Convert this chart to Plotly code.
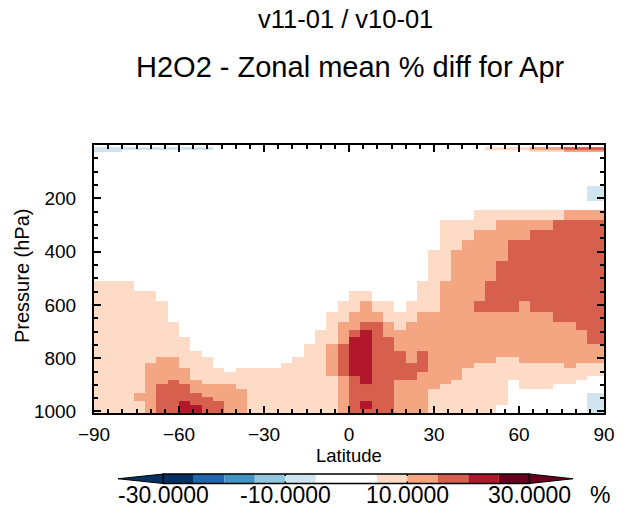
import plotly.graph_objects as go

# ---------------- data ----------------
# latitude bin edges of the 4x5 grid (46 bins)
lat_edges = [-90, -88, -84, -80, -76, -72, -68, -64, -60, -56, -52, -48, -44, -40,
             -36, -32, -28, -24, -20, -16, -12, -8, -4, 0, 4, 8, 12, 16, 20, 24,
             28, 32, 36, 40, 44, 48, 52, 56, 60, 64, 68, 72, 76, 80, 84, 88, 90]

# level pressures (hPa) used as cell boundaries
p_levels = [1005.65, 990.41, 975.12, 959.84, 944.55, 929.27, 913.98, 898.70, 883.42,
            868.13, 852.85, 837.57, 819.74, 796.83, 771.36, 745.90, 720.43, 694.97,
            663.16, 624.96, 586.77, 548.59, 510.40, 472.21, 434.03, 395.84, 357.66,
            319.47, 281.28, 243.10, 208.54, 179.04, 152.59, 129.60, 110.13, 93.67,
            74.21, 53.69, 38.85, 28.11, 17.96, 8.93, 3.98, 1.77, 0.79, 0.35, 0.11]

# % difference classes (class mid values)
class_value = {'.': 0.0, 'b': -7.5, '1': 7.5, '2': 12.5, '3': 17.5, '4': 22.5, '5': 27.5}

# one entry per latitude bin (south -> north); "code:top_level" runs from the surface up
column_runs = [
    "1:22,.:39,b:41",                                  # -89
    "1:22,.:39,b:41",                                  # -86
    "1:22,.:39,b:41",                                  # -82
    "1:22,.:40,b:41",                                  # -78
    "1:3,2:5,1:21,.:40,b:41",                          # -74
    "2:12,1:21,.:40,b:41",                             # -70
    "3:7,2:13,1:20,.:40,b:41",                         # -66
    "3:8,2:13,1:18,.:40,b:41",                         # -62
    "4:3,3:7,2:11,1:16,.:40,b:41",                     # -58
    "4:2,3:5,2:8,1:14,.:40,b:41",                      # -54
    "3:4,2:7,1:13,.:40,b:41",                          # -50
    "3:3,2:7,1:11",                                    # -46
    "2:7,1:10",                                        # -42
    "2:6,1:11",                                        # -38
    "1:11",                                            # -34
    "1:11",                                            # -30
    "1:11",                                            # -26
    "1:12",                                            # -22
    "1:13",                                            # -18
    "1:15",                                            # -14
    "1:17",                                            # -10
    "1:9,2:15,1:19",                                   # -6
    "2:9,3:15,2:18,1:20",                              # -2
    "3:9,4:16,3:17,2:19,1:21",                         # 2
    "3:1,4:3,3:7,4:17,3:18,2:20,1:21",                 # 6
    "3:18,2:19,1:20",                                  # 10
    "3:16,2:18,1:20",                                  # 14
    "2:8,3:14,2:17,1:19",                              # 18
    "2:8,3:12,2:18,1:20",                              # 22
    "2:10,3:14,2:19,1:22",                             # 26
    "1:6,2:19,1:25",                                   # 30
    "1:7,2:22,1:28",                                   # 34
    "1:8,2:25,1:28",                                   # 38
    "1:11,2:26,1:28",                                  # 42
    "1:12,2:19,3:20,2:27,1:29",                        # 46
    "1:12,2:19,3:22,2:27,1:29,.:40,1:41",              # 50
    ".:2,1:13,2:19,3:24,2:28,1:29,.:40,1:41",          # 54
    ".:8,1:13,2:19,3:26,2:28,1:29,.:40,1:41",          # 58
    ".:6,1:12,2:20,3:26,2:28,1:29,.:40,1:41",          # 62
    ".:6,1:12,2:19,3:27,2:28,1:29,.:39,1:40,2:41",     # 66
    ".:6,1:12,2:19,3:27,2:28,1:29,.:39,1:40,2:41",     # 70
    ".:7,1:12,2:18,3:28,1:29,.:39,1:40,2:41",          # 74
    ".:7,1:11,2:18,3:28,2:29,.:39,2:40,3:41",          # 78
    ".:8,1:12,2:17,3:28,2:29,.:39,2:40,3:41",          # 82
    "b:5,.:9,1:12,2:15,3:28,2:29,.:30,b:32,.:39,2:40,3:41",  # 86
    "b:5,.:9,1:12,2:15,3:28,2:29,.:30,b:32,.:39,2:40,3:41",  # 89
]

cbar_bounds = [-30, -25, -20, -15, -10, -5, 5, 10, 15, 20, 25, 30]
cbar_colors = ['#053061', '#2166ac', '#4393c3', '#92c5de', '#d1e5f0', '#ffffff',
               '#fddbc7', '#f4a582', '#d6604d', '#b2182b', '#67001f']
cbar_ticks = [-30, -10, 10, 30]
cbar_ticktext = ['-30.0000', '-10.0000', '10.0000', '30.0000']

lat_ticks = [-90, -60, -30, 0, 30, 60, 90]
p_ticks = [200, 400, 600, 800, 1000]

# ---------------- build grid ----------------
nrow = len(p_levels) - 1
ncol = len(lat_edges) - 1
z = [[0.0] * ncol for _ in range(nrow)]
for j, spec in enumerate(column_runs):
    start = 0
    for run in spec.split(','):
        code, top = run.split(':')
        top = int(top)
        for i in range(start, top):
            z[i][j] = class_value[code]
        start = top

zmin, zmax = cbar_bounds[0], cbar_bounds[-1]
colorscale = []
for k, c in enumerate(cbar_colors):
    colorscale.append([(cbar_bounds[k] - zmin) / (zmax - zmin), c])
    colorscale.append([(cbar_bounds[k + 1] - zmin) / (zmax - zmin), c])

# ---------------- layout helpers ----------------
W, H = 631, 514
L, R, T, B = 94, 27, 145, 101
pw, ph = W - L - R, H - T - B


def px(x):
    return (x - L) / pw


def py(y):
    return (H - B - y) / ph


FONT = "Liberation Sans, Arial, sans-serif"

fig = go.Figure()
fig.add_trace(go.Heatmap(
    x=lat_edges, y=p_levels, z=z,
    colorscale=colorscale, zmin=zmin, zmax=zmax,
    hoverinfo='skip', showscale=False,
))

axis_common = dict(
    showgrid=False, zeroline=False, showline=True, linecolor='black', linewidth=2,
    mirror='allticks', ticks='inside', ticklen=7, tickwidth=2, tickcolor='black',
    tickfont=dict(size=19, color='black', family=FONT), automargin=False,
)
fig.update_xaxes(
    range=[-90, 90], tickvals=lat_ticks,
    minor=dict(dtick=5, ticks='inside', ticklen=4, tickwidth=1.5, tickcolor='black'),
    ticklabelstandoff=3,
    **axis_common,
)
fig.update_yaxes(
    range=[p_levels[0], 0], tickvals=p_ticks,
    minor=dict(dtick=50, ticks='inside', ticklen=4, tickwidth=1.5, tickcolor='black'),
    ticklabelstandoff=12,
    **axis_common,
)

# ---------------- colour bar (drawn from the class bounds) ----------------
CB_X0, CB_X1 = 163.3, 529.3          # pixel extent of the bar for zmin..zmax
CB_Y0, CB_Y1 = 474.0, 483.5
TRI_L, TRI_R = 118.0, 573.0


def cbx(v):
    return CB_X0 + (v - zmin) / (zmax - zmin) * (CB_X1 - CB_X0)


shapes = []
for k, c in enumerate(cbar_colors):
    shapes.append(dict(type='rect', xref='paper', yref='paper',
                       x0=px(cbx(cbar_bounds[k])), x1=px(cbx(cbar_bounds[k + 1])),
                       y0=py(CB_Y1), y1=py(CB_Y0), fillcolor=c, line=dict(width=0)))
ymid = (CB_Y0 + CB_Y1) / 2
shapes.append(dict(type='path', xref='paper', yref='paper',
                   path=f"M {px(CB_X0)} {py(CB_Y0)} L {px(TRI_L)} {py(ymid)} L {px(CB_X0)} {py(CB_Y1)} Z",
                   fillcolor=cbar_colors[0], line=dict(color='black', width=1)))
shapes.append(dict(type='path', xref='paper', yref='paper',
                   path=f"M {px(CB_X1)} {py(CB_Y0)} L {px(TRI_R)} {py(ymid)} L {px(CB_X1)} {py(CB_Y1)} Z",
                   fillcolor=cbar_colors[-1], line=dict(color='black', width=1)))
shapes.append(dict(type='rect', xref='paper', yref='paper',
                   x0=px(CB_X0), x1=px(CB_X1), y0=py(CB_Y1), y1=py(CB_Y0),
                   line=dict(color='black', width=1.5), fillcolor='rgba(0,0,0,0)'))
for v in cbar_ticks[1:-1]:
    for ya, yb in ((CB_Y0, CB_Y0 + 2), (CB_Y1 - 2, CB_Y1)):
        shapes.append(dict(type='line', xref='paper', yref='paper',
                           x0=px(cbx(v)), x1=px(cbx(v)), y0=py(ya), y1=py(yb),
                           line=dict(color='black', width=1.5)))


def note(text, x, y, size, angle=0):
    return dict(text=text, x=px(x), y=py(y), xref='paper', yref='paper',
                showarrow=False, xanchor='center', yanchor='middle', textangle=angle,
                font=dict(size=size, color='black', family=FONT))


annotations = [
    note('v11-01 / v10-01', 345, 19, 25.5),
    note('H2O2 - Zonal mean % diff for Apr', 350, 67, 29),
    note('Latitude', 349, 455, 18.5),
    note('Pressure (hPa)', 22, 276, 20, -90),
    note('%', 600, 495, 23),
]
for v, t in zip(cbar_ticks, cbar_ticktext):
    annotations.append(note(t, cbx(v), 495, 23))

fig.update_layout(
    width=W, height=H, margin=dict(l=L, r=R, t=T, b=B, autoexpand=False),
    paper_bgcolor='white', plot_bgcolor='white', template='none',
    shapes=shapes, annotations=annotations, showlegend=False,
)

fig.write_html("out.html", config={'displayModeBar': False},
               post_script="document.body.style.margin='0';document.body.style.padding='0';")
